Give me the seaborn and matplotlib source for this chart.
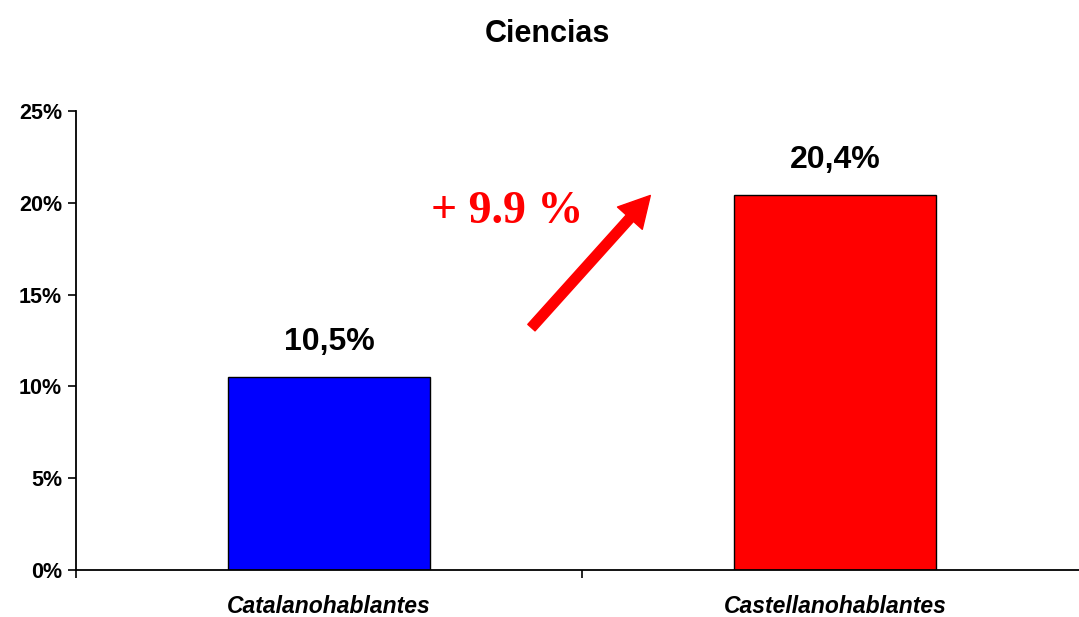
import matplotlib
matplotlib.use("Agg")
import matplotlib.pyplot as plt
import seaborn as sns
import pandas as pd

groups = ["Catalanohablantes", "Castellanohablantes"]
values = [10.5, 20.4]
bar_colors = ["#0000FF", "#FF0000"]
yticks = [0, 5, 10, 15, 20, 25]

sns.set_style("white")
plt.rcParams["font.family"] = ["Liberation Sans", "DejaVu Sans"]
plt.rcParams["text.color"] = "black"
plt.rcParams["xtick.color"] = "black"
plt.rcParams["ytick.color"] = "black"

df = pd.DataFrame({"Grupo": groups, "Pct": values})

fig = plt.figure(figsize=(10.79, 6.17), dpi=100)
# the plot area runs a little past the right edge, as in the original
ax = fig.add_axes([0.0704, 0.0762, 0.938, 0.7439])

sns.barplot(data=df, x="Grupo", y="Pct", hue="Grupo", palette=bar_colors,
            saturation=1, width=0.4, edgecolor="black", linewidth=1.0,
            legend=False, ax=ax)

ax.set_xlim(-0.5, 1.5)
ax.set_ylim(0, 25)
ax.set_yticks(yticks)
ax.set_yticklabels([f"{v}%" for v in yticks], fontsize=15.5, fontweight="bold")
ax.set_xticks(range(len(groups)))
ax.set_xticklabels(groups, fontsize=16.5, fontweight="bold", style="italic")
ax.set_xticks([-0.5, 0.5, 1.5], minor=True)
ax.tick_params(axis="x", which="major", bottom=False, length=0, pad=18)
ax.tick_params(axis="x", which="minor", bottom=True, length=6, width=1.2, direction="out")
ax.tick_params(axis="y", left=True, length=6, width=1.2, direction="out", pad=4)
ax.set_xlabel("")
ax.set_ylabel("")
sns.despine(ax=ax)
for s in ["left", "bottom"]:
    ax.spines[s].set_color("black")
    ax.spines[s].set_linewidth(1.3)

for i, v in enumerate(values):
    ax.text(i, v + 1.1, f"{v:.1f}%".replace(".", ","), ha="center", va="bottom",
            fontsize=23, fontweight="bold")

diff = values[1] - values[0]
ax.annotate("", xy=(0.635, 20.4), xytext=(0.4, 13.2),
            arrowprops=dict(facecolor="#FF0000", edgecolor="#FF0000",
                            width=7, headwidth=24, headlength=22, shrink=0))
ax.text(0.353, 19.5, f"+ {diff:.1f} %", ha="center", va="center", color="#FF0000",
        fontsize=33, fontweight="bold", family=["Liberation Serif", "DejaVu Serif"])

fig.text(0.507, 0.945, "Ciencias", ha="center", va="center", fontsize=22, fontweight="bold")

fig.savefig("out.png", dpi=100)
